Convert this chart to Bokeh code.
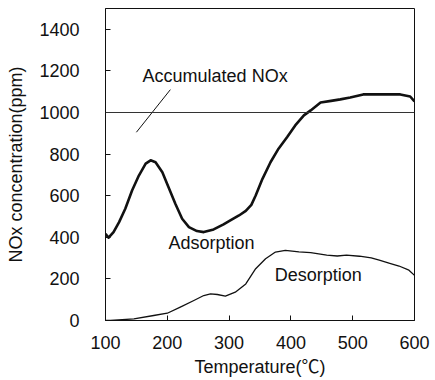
from bokeh.plotting import figure
from bokeh.models import Range1d, FixedTicker, Span, Label
from bokeh.embed import file_html
from bokeh.resources import INLINE

# Adsorption run: outlet NOx concentration (ppm) vs temperature (°C)
ads_temp = [100, 105, 113, 122, 132, 143, 154, 165, 173, 181, 192, 202, 213, 224,
            235, 248, 259, 275, 291, 302, 316, 327, 336, 343, 354, 367, 380, 394, 407,
            421, 432, 448, 465, 480, 496, 517, 540, 560, 577, 593, 600]
ads_nox = [417, 398, 425, 473, 537, 625, 697, 754, 770, 761, 713, 641, 561, 489,
           449, 430, 425, 438, 462, 481, 505, 527, 556, 601, 681, 761, 826, 882, 938,
           986, 1010, 1048, 1056, 1063, 1072, 1087, 1088, 1087, 1087, 1077, 1053]

# Desorption run
des_temp = [100, 108, 146, 178, 200, 221, 243, 259, 270, 281, 294, 310, 327, 343,
            359, 375, 391, 413, 432, 445, 458, 475, 490, 511, 530, 543, 560, 575,
            591, 600]
des_nox = [0, 0, 8, 24, 35, 64, 96, 120, 128, 125, 117, 136, 176, 249,
           297, 329, 337, 330, 326, 320, 314, 310, 314, 309, 301, 290, 275, 262,
           242, 217]

accumulated_nox = 1000

x_ticks = [100, 200, 300, 400, 500, 600]
y_ticks = [0, 200, 400, 600, 800, 1000, 1200, 1400]

FONT = "'Liberation Sans', Arial, 'Noto Sans CJK JP', sans-serif"
INK = "#111111"
SIZE = "18px"

p = figure(width=435, height=380, output_backend="svg", toolbar_location=None,
           x_range=Range1d(100, 600), y_range=Range1d(0, 1500),
           min_border_left=105, min_border_right=21, min_border_top=8,
           min_border_bottom=60)

p.xgrid.visible = False
p.ygrid.visible = False
p.outline_line_color = INK
p.outline_line_width = 1
p.background_fill_color = "white"
p.border_fill_color = "white"

p.xaxis.ticker = FixedTicker(ticks=x_ticks)
p.yaxis.ticker = FixedTicker(ticks=y_ticks)
for ax in (p.xaxis, p.yaxis):
    ax.major_tick_in = 5
    ax.major_tick_out = 0
    ax.minor_tick_in = 0
    ax.minor_tick_out = 0
    ax.axis_line_color = INK
    ax.major_tick_line_color = INK
    ax.major_label_text_font = FONT
    ax.major_label_text_font_size = SIZE
    ax.major_label_text_color = INK
    ax.axis_label_text_font = FONT
    ax.axis_label_text_font_size = SIZE
    ax.axis_label_text_font_style = "normal"
    ax.axis_label_text_color = INK

p.xaxis.axis_label = "Temperature(℃)"
p.yaxis.axis_label = "NOx concentration(ppm)"
p.xaxis.major_label_standoff = 15
p.xaxis.axis_label_standoff = 5
p.yaxis.major_label_standoff = 26
p.yaxis.axis_label_standoff = 10

# reference level of accumulated NOx
p.add_layout(Span(location=accumulated_nox, dimension="width",
                  line_color="#333333", line_width=1))

p.line(ads_temp, ads_nox, line_color=INK, line_width=2.6, line_join="round")
p.line(des_temp, des_nox, line_color=INK, line_width=1.3, line_join="round")

# leader line from the label to the accumulated level
p.line([150, 205], [905, 1110], line_color=INK, line_width=1)

p.add_layout(Label(x=160, y=1174, text="Accumulated NOx", text_font=FONT,
                   text_font_size=SIZE, text_baseline="middle", text_color=INK))
p.add_layout(Label(x=202, y=372, text="Adsorption", text_font=FONT,
                   text_font_size=SIZE, text_baseline="middle", text_color=INK))
p.add_layout(Label(x=374, y=217, text="Desorption", text_font=FONT,
                   text_font_size=SIZE, text_baseline="middle", text_color=INK))

open("out.html", "w").write(file_html(p, INLINE))
